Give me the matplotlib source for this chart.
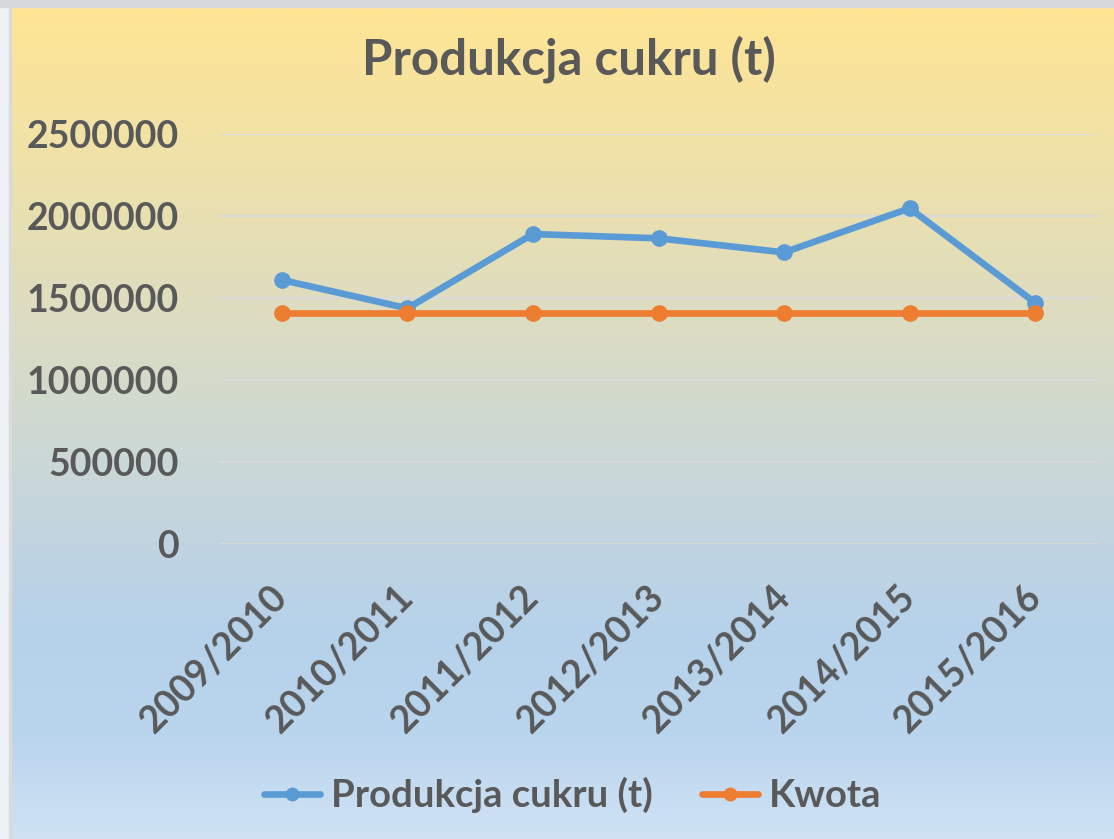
import matplotlib.pyplot as plt
import numpy as np
from matplotlib.colors import LinearSegmentedColormap
from matplotlib.patches import Rectangle

# data
seasons = ["2009/2010", "2010/2011", "2011/2012", "2012/2013",
           "2013/2014", "2014/2015", "2015/2016"]
produkcja = [1610000, 1437000, 1890000, 1864000, 1778000, 2047000, 1471000]
kwota = [1405608] * 7
y_ticks = [0, 500000, 1000000, 1500000, 2000000, 2500000]

TXT = "#595959"
BLUE = "#5B9BD5"
ORANGE = "#ED7D31"
FONT = "Lato"

W, H = 1114, 839
fig = plt.figure(figsize=(W / 100, H / 100), dpi=100)

# background gradient (yellow -> blue -> light blue)
bg = fig.add_axes([0, 0, 1, 1], zorder=-5)
bg.set_axis_off()
stops = [(0.0, "#FFE594"), (0.16, "#F1E2A6"), (0.36, "#DEDDC0"),
         (0.54, "#CBD8D6"), (0.65, "#C0D4E1"), (0.75, "#B6D2EB"),
         (0.88, "#BAD5EE"), (1.0, "#CFE2F4")]
cmap = LinearSegmentedColormap.from_list("bg", stops)
grad = np.linspace(0, 1, 400).reshape(-1, 1)
bg.imshow(grad, aspect="auto", cmap=cmap, extent=[10 / W, 1, 0, 1 - 7 / H],
          origin="upper")
bg.set_xlim(0, 1)
bg.set_ylim(0, 1)
bg.add_patch(Rectangle((0, 0), 10 / W, 1, color="#EEF1F5", zorder=3))
bg.add_patch(Rectangle((0, 1 - 7 / H), 1, 7 / H, color="#D6D9DC", zorder=3))
bg.add_patch(Rectangle((9 / W, 0), 1.5 / W, 1 - 7 / H, color="#DADADA", zorder=4))

ax = fig.add_axes([219 / W, 295 / H, (1098 - 219) / W, (705 - 295) / H])
ax.patch.set_alpha(0)
x = np.arange(len(seasons))
ax.plot(x, produkcja, color=BLUE, lw=4.8, marker="o", ms=11,
        solid_capstyle="round", label="Produkcja cukru (t)", zorder=3)
ax.plot(x, kwota, color=ORANGE, lw=4.8, marker="o", ms=11,
        solid_capstyle="round", label="Kwota", zorder=4)

ax.set_xlim(-0.5, len(seasons) - 0.5)
ax.set_ylim(0, 2500000)
ax.set_yticks(y_ticks)
ax.set_yticklabels([str(v) for v in y_ticks], fontsize=27,
                   fontweight="bold", color=TXT, family=FONT)
ax.set_xticks(x)
ax.set_xticklabels(seasons, fontsize=27, fontweight="bold", color=TXT,
                   family=FONT, rotation=45, ha="right", va="center",
                   rotation_mode="anchor")
ax.tick_params(axis="y", length=0, pad=29)
ax.tick_params(axis="x", length=0, pad=34)
ax.grid(axis="y", color="#D9D9D9", lw=1.6)
ax.set_axisbelow(True)
for s in ax.spines.values():
    s.set_visible(False)

fig.text(569 / W, 1 - 59 / H, "Produkcja cukru (t)", ha="center",
         va="center", fontsize=35.5, fontweight="bold", color=TXT, family=FONT)

leg = fig.legend(loc="center", bbox_to_anchor=(573 / W, 1 - 795 / H),
                 ncol=2, frameon=False, handlelength=1.45, handletextpad=0.3,
                 columnspacing=1.3, prop={"family": FONT, "weight": "bold",
                                           "size": 27.5})
for t in leg.get_texts():
    t.set_color(TXT)
for h in leg.legend_handles:
    h.set_markersize(9)

fig.savefig("out.png", dpi=100)
